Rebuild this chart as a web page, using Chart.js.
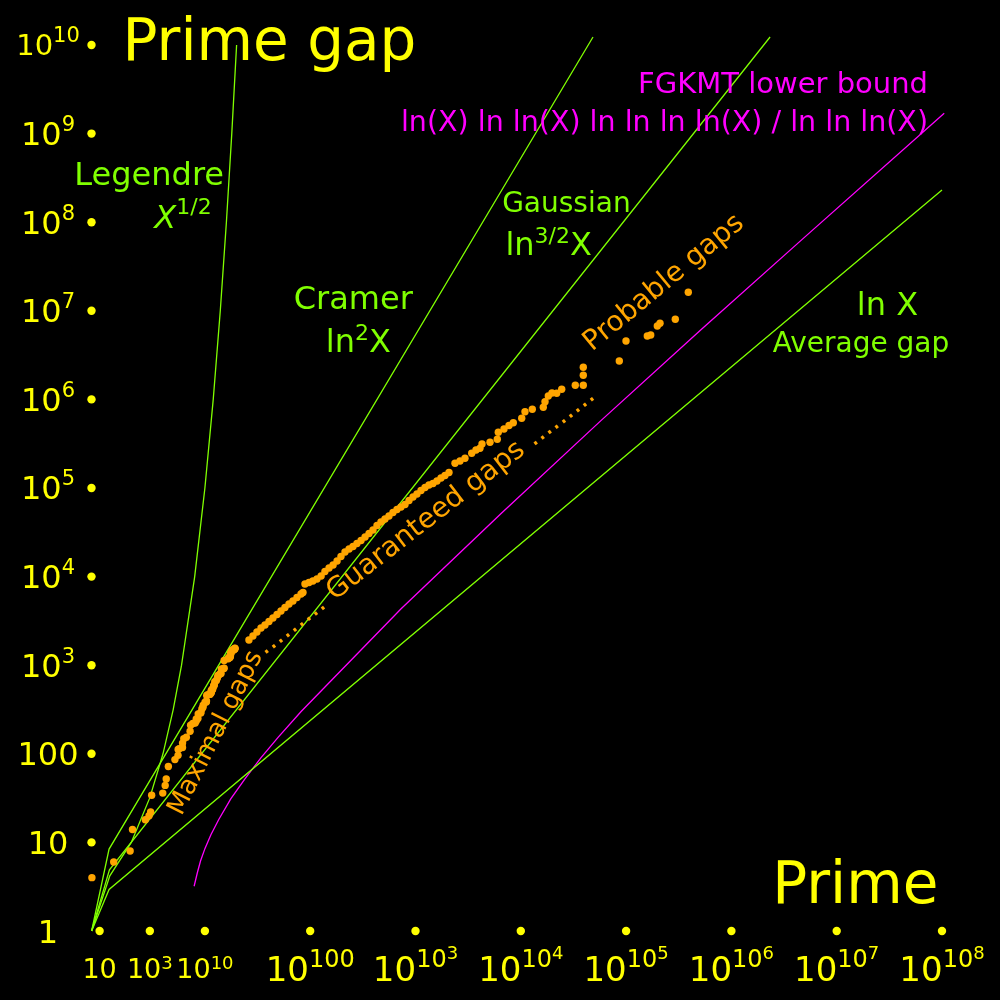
<!DOCTYPE html>
<html>
<head>
<meta charset="utf-8">
<title>Prime gap</title>
<script src="https://cdn.jsdelivr.net/npm/chart.js@4.4.1/dist/chart.umd.min.js"></script>
<style>
  html, body { margin: 0; padding: 0; background: #000; }
  canvas { display: block; }
</style>
</head>
<body>
<canvas id="gapChart" width="1000" height="1000"></canvas>
<script>
// x = decimal digits of the prime X (log10 X), y = size of the gap; both axes logarithmic

// record (maximal) gaps: the prime that starts the gap, and the gap
const maxGapPrimes = [7, 23, 89, 113, 523, 887, 1129, 1327, 9551, 15683, 19609, 31397, 155921, 360653,
  370261, 492113, 1349533, 1357201, 2010733, 4652353, 17051707, 20831323, 47326693, 122164747,
  189695659, 191912783, 387096133, 436273009, 1294268491, 1453168141, 2300942549, 3842610773,
  4302407359, 10726904659, 20678048297, 22367084959, 25056082087, 42652618343, 127976334671,
  182226896239, 241160624143, 297501075799, 303371455241, 304599508537, 416608695821,
  461690510011, 614487453523, 738832927927, 1346294310749, 1408695493609, 1968188556461,
  2614941710599, 7177162611713, 13829048559701, 19581334192423, 42842283925351, 90874329411493,
  171231342420521, 218209405436543, 1189459969825483, 1686994940955803, 1693182318746371,
  43841547845541059, 55350776431903243, 80873624627234849, 203986478517455989,
  218034721194214273, 305405826521087869, 352521223451364323, 401429925999153707,
  418032645936712127, 804212830686677669, 1425172824437699411, 5733241593241196731,
  6787988999657777797, 15570628755536096243, 17678654157568189057, 18361375334787046697,
  18470057946260698231];
const maxGaps = [4, 6, 8, 14, 18, 20, 22, 34, 36, 44, 52, 72, 86, 96, 112, 114, 118, 132, 148, 154,
  180, 210, 220, 222, 234, 248, 250, 282, 288, 292, 320, 336, 354, 382, 384, 394, 456, 464, 468,
  474, 486, 490, 500, 514, 516, 532, 534, 540, 582, 588, 602, 652, 674, 716, 766, 778, 804, 806,
  906, 916, 924, 1132, 1184, 1198, 1220, 1224, 1248, 1272, 1328, 1356, 1370, 1442, 1476, 1488,
  1510, 1526, 1530, 1550, 1552];

// larger known gaps: digits of X and gap
const bigGapDigits = [26.2, 28.6, 31.2, 34.1, 37.2, 40.6, 44.3, 48.4, 52.8, 57.6, 62.9, 68.6, 74.9,
  81.8, 85.4, 89.2, 97.4, 106, 116, 127, 138, 151, 165, 180, 196, 214, 234, 255, 278, 304, 332,
  362, 395, 431, 470, 513, 560, 611, 667, 728, 795, 868, 947, 1033, 1128, 1231, 1343, 1466, 1600,
  1747, 1906, 2080, 2372, 2646, 2952, 3418, 3754, 4098, 4281, 5100, 5982, 6114, 6927, 7727, 8490,
  10200, 10960, 12860, 16360, 16980, 18250, 19780, 21920, 24460, 32930, 39220, 39220, 39220,
  86190, 99790, 159000, 171300, 197900, 209900, 293300, 389700];
const bigGaps = [1925, 2136, 2370, 2630, 2842, 3113, 3410, 3735, 4090, 4480, 4905, 5305, 5810,
  6360, 6615, 8250, 8580, 8920, 9395, 10160, 11420, 12510, 13520, 15000, 16870, 18950, 20490,
  21860, 23640, 25550, 27990, 30660, 33570, 37730, 41330, 44680, 48310, 52900, 57190, 61040,
  65140, 72250, 79130, 85560, 93700, 101300, 108100, 112400, 119900, 129700, 138400, 149600,
  190000, 201700, 216400, 246400, 268500, 280600, 313800, 328000, 354500, 425300, 463400,
  507500, 545800, 611900, 726400, 773300, 814500, 942000, 1093000, 1181000, 1172000, 1300000,
  1443000, 1443000, 1871000, 2303000, 2713000, 4561000, 5194000, 5331000, 6736000, 7225000,
  8019000, 16180000];

// bound curves, points
const legendreDigits = [0.84, 1.25, 2, 3, 4, 5, 6, 8, 10, 12, 14, 16, 18, 20];
const legendreGaps = [1, 4.2, 10, 32, 100, 316, 1000, 1e4, 1e5, 1e6, 1e7, 1e8, 1e9, 1e10];
const cramerDigits = [0.84, 1.23, 48500];
const cramerGaps = [1, 8.4, 1.23e10];
const gaussDigits = [0.84, 1.24, 2.33e6];
const gaussGaps = [1, 4.9, 1.23e10];
const lnDigits = [0.84, 1.23, 1.0e8];
const lnGaps = [1, 2.94, 2.31e8];
const fgkmtDigits = [7.9, 8.5, 9.1, 10, 11.4, 13.5, 17.6, 24, 34, 50, 82, 730, 6540, 58000, 5.2e5, 4.7e6, 1.05e8];
const fgkmtGaps = [3.2, 4.6, 6.2, 8.5, 12.2, 18, 31, 52, 90, 155, 300, 4340, 52000, 5.8e5, 6.2e6, 6.4e7, 1.7e9];

// axis ticks
const xTickDigits = [1, 3, 10, 100, 1e3, 1e4, 1e5, 1e6, 1e7, 1e8];
const xTickSup = ['', '3', '10', '100', '10', '10', '10', '10', '10', '10'];
const xTickSup2 = ['', '', '', '', '3', '4', '5', '6', '7', '8'];
const yTickValues = [1, 10, 100, 1e3, 1e4, 1e5, 1e6, 1e7, 1e8, 1e9, 1e10];
const yTickBase = ['1', '10', '100', '10', '10', '10', '10', '10', '10', '10', '10'];
const yTickSup = ['', '', '', '3', '4', '5', '6', '7', '8', '9', '10'];

const FONT = '"DejaVu Sans", Verdana, sans-serif';
const YELLOW = '#ffff00';
const GREEN = '#80ff00';
const ORANGE = '#ffa500';
const MAGENTA = '#ff00ff';

const toPoints = (xs, ys) => xs.map((x, i) => ({ x, y: ys[i] }));

function font(p) {
  return (p.italic ? 'italic ' : '') + p.size + 'px ' + FONT;
}

// draws a run of text pieces (base + superscripts) on one baseline
function drawRun(ctx, parts, x, y, align) {
  let w = 0;
  parts.forEach(p => { ctx.font = font(p); p.w = ctx.measureText(p.t).width; w += p.w; });
  let cx = align === 'center' ? x - w / 2 : align === 'right' ? x - w : x;
  ctx.textAlign = 'left';
  ctx.textBaseline = 'alphabetic';
  parts.forEach(p => {
    ctx.font = font(p);
    ctx.fillText(p.t, cx, y - (p.up || 0));
    cx += p.w;
  });
}

function drawRotated(ctx, text, size, x, y, deg) {
  ctx.save();
  ctx.translate(x, y);
  ctx.rotate(-deg * Math.PI / 180);
  ctx.font = size + 'px ' + FONT;
  ctx.textAlign = 'center';
  ctx.textBaseline = 'middle';
  ctx.fillText(text, 0, 0);
  ctx.restore();
}

const decorations = {
  id: 'decorations',
  beforeDraw(chart) {
    const ctx = chart.ctx;
    ctx.save();
    ctx.fillStyle = '#000';
    ctx.fillRect(0, 0, chart.width, chart.height);
    ctx.restore();
  },
  afterDatasetsDraw(chart) {
    const ctx = chart.ctx;
    const xs = chart.scales.x;
    const ys = chart.scales.y;
    const axisY = ys.getPixelForValue(1);
    const axisX = 91.5;
    ctx.save();
    ctx.fillStyle = YELLOW;

    // x ticks
    xTickDigits.forEach((d, i) => {
      const px = xs.getPixelForValue(d);
      ctx.beginPath();
      ctx.arc(px, axisY, 4.2, 0, Math.PI * 2);
      ctx.fill();
      const parts = [];
      if (i < 3) {
        parts.push({ t: '10', size: 27 });
        if (xTickSup[i]) parts.push({ t: xTickSup[i], size: 18, up: 9.5 });
        drawRun(ctx, parts, px, 978, 'center');
      } else {
        parts.push({ t: '10', size: 34 });
        parts.push({ t: xTickSup[i], size: 24, up: 14 });
        if (xTickSup2[i]) parts.push({ t: xTickSup2[i], size: 18, up: 22 });
        drawRun(ctx, parts, px, 981, 'center');
      }
    });

    // y ticks
    yTickValues.forEach((v, i) => {
      const py = ys.getPixelForValue(v);
      if (i > 0) {
        ctx.beginPath();
        ctx.arc(axisX, py, 4.2, 0, Math.PI * 2);
        ctx.fill();
      }
      const big = yTickSup[i] === '10';
      const parts = [{ t: yTickBase[i], size: big ? 29 : 32 }];
      if (yTickSup[i]) parts.push({ t: yTickSup[i], size: 21, up: big ? 13 : 14 });
      drawRun(ctx, parts, 48, py + (big ? 10 : 11.5), 'center');
    });

    // axis titles
    drawRun(ctx, [{ t: 'Prime gap', size: 58 }], 122.6, 60, 'left');
    drawRun(ctx, [{ t: 'Prime', size: 58 }], 772.3, 903, 'left');

    // curve labels
    ctx.fillStyle = GREEN;
    drawRun(ctx, [{ t: 'Legendre', size: 32 }], 149.2, 185, 'center');
    drawRun(ctx, [{ t: 'X', size: 32, italic: true }, { t: '1/2', size: 22, up: 14 }], 183, 228, 'center');
    drawRun(ctx, [{ t: 'Cramer', size: 32 }], 353.3, 308.5, 'center');
    drawRun(ctx, [{ t: 'ln', size: 32 }, { t: '2', size: 22, up: 12 }, { t: 'X', size: 32 }], 358.4, 351.7, 'center');
    drawRun(ctx, [{ t: 'Gaussian', size: 28 }], 566.4, 211.7, 'center');
    drawRun(ctx, [{ t: 'ln', size: 32 }, { t: '3/2', size: 22, up: 12 }, { t: 'X', size: 32 }], 548.7, 255, 'center');
    drawRun(ctx, [{ t: 'ln X', size: 32 }], 887.5, 315, 'center');
    drawRun(ctx, [{ t: 'Average gap', size: 28 }], 861, 352, 'center');

    ctx.fillStyle = MAGENTA;
    drawRun(ctx, [{ t: 'FGKMT lower bound', size: 29 }], 928, 93, 'right');
    drawRun(ctx, [{ t: 'ln(X) ln ln(X) ln ln ln ln(X) / ln ln ln(X)', size: 28.5 }], 928, 131, 'right');

    ctx.fillStyle = ORANGE;
    drawRotated(ctx, 'Maximal gaps', 26, 216, 733, 63.2);
    drawRotated(ctx, '......... Guaranteed gaps .........', 28, 426, 521, 37.8);
    drawRotated(ctx, 'Probable gaps', 28, 664, 283, 39.5);
    ctx.restore();
  }
};

const lineSet = (data, color) => ({
  data,
  showLine: true,
  borderColor: color,
  borderWidth: 1.3,
  pointRadius: 0,
  fill: false,
  tension: 0
});

const dotSet = data => ({
  data,
  showLine: false,
  pointRadius: 3.7,
  pointBorderWidth: 0,
  backgroundColor: ORANGE,
  borderColor: ORANGE
});

const maxGapPoints = maxGapPrimes.map((p, i) => ({ x: Math.log10(p), y: maxGaps[i] }));

new Chart(document.getElementById('gapChart'), {
  type: 'scatter',
  data: {
    datasets: [
      dotSet(maxGapPoints),
      dotSet(toPoints(bigGapDigits, bigGaps)),
      lineSet(toPoints(legendreDigits, legendreGaps), GREEN),
      lineSet(toPoints(cramerDigits, cramerGaps), GREEN),
      lineSet(toPoints(gaussDigits, gaussGaps), GREEN),
      lineSet(toPoints(lnDigits, lnGaps), GREEN),
      lineSet(toPoints(fgkmtDigits, fgkmtGaps), MAGENTA)
    ]
  },
  options: {
    responsive: false,
    animation: false,
    events: [],
    layout: { padding: 0, autoPadding: false },
    plugins: { legend: { display: false }, tooltip: { enabled: false } },
    scales: {
      x: { type: 'logarithmic', min: 0.11327, max: 3.555e8, display: false },
      y: { type: 'logarithmic', min: 0.16643, max: 3.2196e10, display: false }
    }
  },
  plugins: [decorations]
});
</script>
</body>
</html>
